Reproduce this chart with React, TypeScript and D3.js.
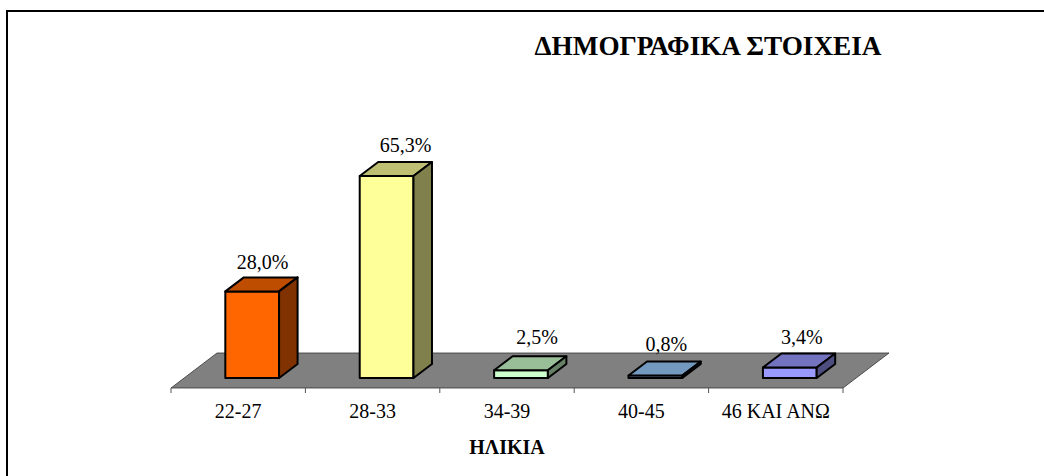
import React from "react";
import * as d3 from "d3";

const categories = ["22-27", "28-33", "34-39", "40-45", "46 ΚΑΙ ΑΝΩ"];
const values = [28.0, 65.3, 2.5, 0.8, 3.4];
const labels = ["28,0%", "65,3%", "2,5%", "0,8%", "3,4%"];
const fronts = ["#ff6600", "#ffff99", "#ccffcc", "#99ccff", "#9999ff"];
// value labels sit a little off from each bar, not evenly
const labelNudgeX = [10.5, 19, 16, 11, 12];
const labelGap = [22.5, 24, 26, 24.5, 23];

const width = 1044;
const height = 476;
const font = "'Liberation Serif', 'Times New Roman', serif";

// floor geometry
const floorLeft = 171;
const floorRight = 843;
const floorY = 388;
const depthX = 46;
const depthY = 35;
const barDepthX = 18.5;
const barDepthY = 14;
const barBase = 378;

const x = d3.scaleBand<string>()
  .domain(categories)
  .range([floorLeft + 14, floorRight + 14])
  .paddingInner(0.6)
  .paddingOuter(0.3);

const y = d3.scaleLinear().domain([0, 65.3]).range([barBase, 176]);

const poly = (pts: [number, number][]) => d3.line()(pts) + "Z";

// excel style shading of the 3d faces
const shade = (c: string, k: number) => {
  const r = d3.rgb(c);
  return d3.rgb(r.r * k, r.g * k, r.b * k).formatHex();
};

export default function App() {
  const bw = x.bandwidth();
  const band = (floorRight - floorLeft) / categories.length;
  const ticks = d3.range(categories.length + 1).map(i => floorLeft + i * band);

  return (
    <svg width={width} height={height} style={{ position: "absolute", left: 0, top: 0 }} fontFamily={font}>
      <rect x={0} y={0} width={width} height={height} fill="#fff" />
      <path d={`M7,${height}V11H${width}`} fill="none" stroke="#000" strokeWidth={2} />

      <text x={708} y={55} textAnchor="middle" fontSize={27.2} fontWeight="bold">ΔΗΜΟΓΡΑΦΙΚΑ ΣΤΟΙΧΕΙΑ</text>

      <path
        d={poly([
          [floorLeft, floorY],
          [floorLeft + depthX, floorY - depthY],
          [floorRight + depthX, floorY - depthY],
          [floorRight, floorY],
        ])}
        fill="#808080"
        stroke="#333"
        strokeWidth={0.8}
      />

      {ticks.map(t => (
        <line key={t} x1={t} x2={t} y1={floorY} y2={floorY + 5} stroke="#555" />
      ))}

      {categories.map((c, i) => {
        const x0 = x(c)!;
        const x1 = x0 + bw;
        const top = y(values[i]);
        return (
          <g key={c} stroke="#000" strokeWidth={2} strokeLinejoin="round">
            <rect x={x0} y={top} width={bw} height={barBase - top} fill={fronts[i]} />
            <path
              d={poly([
                [x0, top],
                [x0 + barDepthX, top - barDepthY],
                [x1 + barDepthX, top - barDepthY],
                [x1, top],
              ])}
              fill={shade(fronts[i], 0.75)}
            />
            <path
              d={poly([
                [x1, top],
                [x1 + barDepthX, top - barDepthY],
                [x1 + barDepthX, barBase - barDepthY],
                [x1, barBase],
              ])}
              fill={shade(fronts[i], 0.5)}
            />
          </g>
        );
      })}

      {categories.map((c, i) => (
        <text key={c} x={x(c)! + bw / 2 + labelNudgeX[i]} y={y(values[i]) - labelGap[i]} textAnchor="middle" fontSize={20}>
          {labels[i]}
        </text>
      ))}

      {categories.map((c, i) => (
        <text key={c} x={floorLeft + (i + 0.5) * band} y={418} textAnchor="middle" fontSize={20}>
          {c}
        </text>
      ))}

      <text x={507} y={454} textAnchor="middle" fontSize={20} fontWeight="bold">ΗΛΙΚΙΑ</text>
    </svg>
  );
}
